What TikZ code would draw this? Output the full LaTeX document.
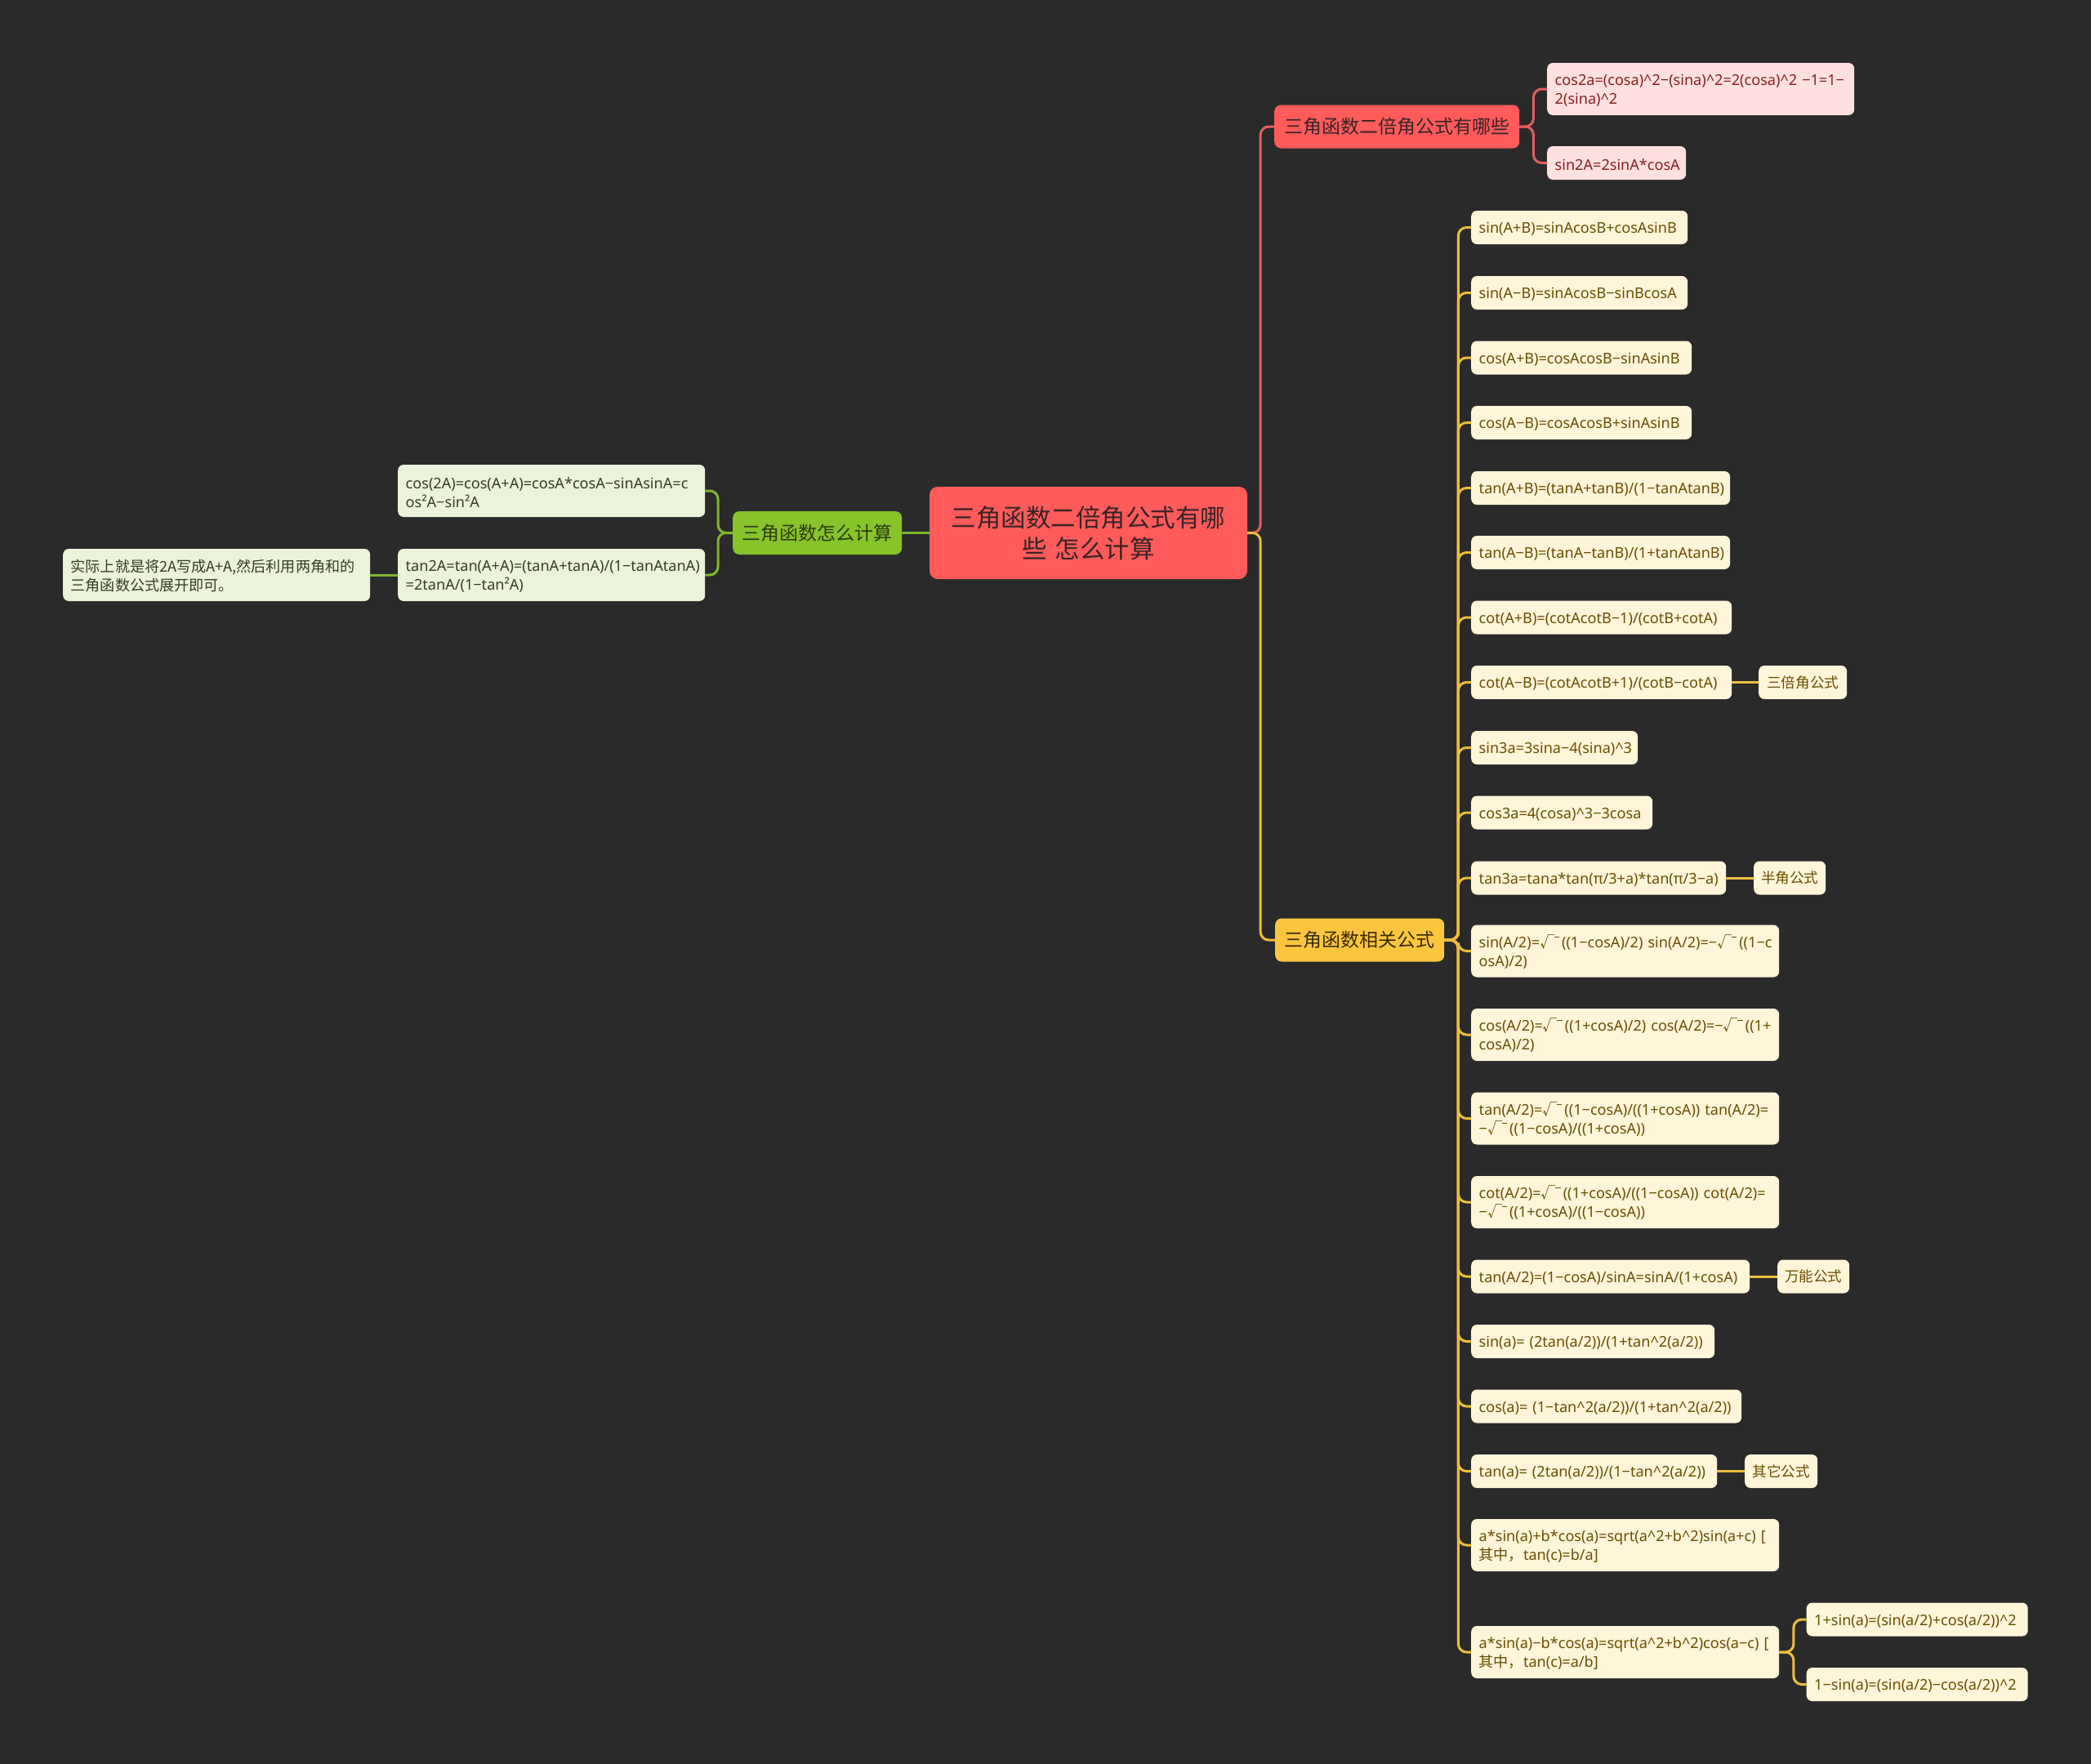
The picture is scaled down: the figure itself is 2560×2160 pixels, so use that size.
\documentclass[tikz,border=0pt]{standalone}
\usepackage{fontspec}
\setmainfont{Noto Sans}
\newfontfamily\cjk{Noto Sans CJK SC}
\newcommand\mysq{{\cjk √}\kern-0.5pt\rule[0.7em]{0.34em}{0.06em}\kern0.18em}
\definecolor{bgc}{HTML}{2A2A2A}
\definecolor{rootfill}{HTML}{FF5B5B}
\definecolor{roottext}{HTML}{3A2424}
\definecolor{redline}{HTML}{E0605E}
\definecolor{redleaf}{HTML}{FFE0E0}
\definecolor{redtext}{HTML}{8A1E1E}
\definecolor{yelfill}{HTML}{FBC63E}
\definecolor{yeltext}{HTML}{3A2A05}
\definecolor{yelline}{HTML}{EDBD3D}
\definecolor{yelleaf}{HTML}{FFF5D9}
\definecolor{yelleaftext}{HTML}{6A4E00}
\definecolor{grnfill}{HTML}{86C42A}
\definecolor{grntext}{HTML}{2E3B14}
\definecolor{grnline}{HTML}{7DB82C}
\definecolor{grnleaf}{HTML}{EBF3DB}
\definecolor{grnleaftext}{HTML}{343E22}
\begin{document}
\begin{tikzpicture}[x=1pt,y=-1pt,
  leaf/.style={anchor=west, rounded corners=7, inner xsep=9.5, inner ysep=0,
    minimum height=41, align=left, font=\fontsize{18.1}{23}\selectfont,
    execute at begin node={\rule{0pt}{17.5pt}}},
  two/.style={minimum height=64},
  yl/.style={leaf, fill=yelleaf, text=yelleaftext},
  rl/.style={leaf, fill=redleaf, text=redtext},
  gl/.style={leaf, fill=grnleaf, text=grnleaftext},
  cjkleaf/.style={anchor=west, rounded corners=7, inner xsep=0, inner ysep=0,
    minimum height=41, font=\cjk\fontsize{17.6}{23}\selectfont, fill=yelleaf, text=yelleaftext},
  branch/.style={anchor=west, rounded corners=8, inner xsep=0, inner ysep=0,
    minimum height=53, font=\cjk\fontsize{23}{28}\selectfont},
  rline/.style={draw=redline, line width=3, rounded corners=10},
  yline/.style={draw=yelline, line width=3, rounded corners=10},
  gline/.style={draw=grnline, line width=3, rounded corners=10},
]
\fill[bgc] (0,0) rectangle (2560,2160);
\useasboundingbox (0,0) rectangle (2560,2160);

% root
\node[fill=rootfill, text=roottext, rounded corners=10, minimum width=389, minimum height=113,
  text width=370, align=center, inner sep=0, font=\cjk\fontsize{30.5}{38}\selectfont]
  (root) at (1332.5,652.5) {三角函数二倍角公式有哪\\些 怎么计算};

% branches
\node[branch, fill=rootfill, text=roottext, minimum width=300] (rb) at (1560,155) {三角函数二倍角公式有哪些};
\node[branch, fill=yelfill, text=yeltext, minimum width=207] (yb) at (1561,1151) {三角函数相关公式};
\node[branch, fill=grnfill, text=grntext, minimum width=207] (gb) at (897,652.5) {三角函数怎么计算};

% red leaves
\node[rl, two, text width=357] (r1) at (1894,109) {\mbox{cos2a=(cosa)\^{}2−(sina)\^{}2=2(cosa)\^{}2 −1=1−}\\2(sina)\^{}2};
\node[rl, text width=151] (r2) at (1894,199.5) {\mbox{sin2A=2sinA*cosA}};

% green leaves
\node[gl, two, text width=357] (g1) at (487,601) {\mbox{cos(2A)=cos(A+A)=cosA*cosA−sinAsinA=c}\\os²A−sin²A};
\node[gl, two, text width=357] (g2) at (487,704) {\mbox{tan2A=tan(A+A)=(tanA+tanA)/(1−tanAtanA)}\\=2tanA/(1−tan²A)};
\node[gl, two, text width=357, font=\cjk\fontsize{18.1}{23}\selectfont] (g3) at (77,704) {\mbox{实际上就是将2A写成A+A,然后利用两角和的}\\三角函数公式展开即可。};

% yellow leaves
\node[yl, text width=246] (y1) at (1801,278.5) {\mbox{sin(A+B)=sinAcosB+cosAsinB}};
\node[yl, text width=246] (y2) at (1801,358.5) {\mbox{sin(A−B)=sinAcosB−sinBcosA}};
\node[yl, text width=251] (y3) at (1801,438) {\mbox{cos(A+B)=cosAcosB−sinAsinB}};
\node[yl, text width=251] (y4) at (1801,517.5) {\mbox{cos(A−B)=cosAcosB+sinAsinB}};
\node[yl, text width=298] (y5) at (1801,597.5) {\mbox{tan(A+B)=(tanA+tanB)/(1−tanAtanB)}};
\node[yl, text width=298] (y6) at (1801,676.5) {\mbox{tan(A−B)=(tanA−tanB)/(1+tanAtanB)}};
\node[yl, text width=300] (y7) at (1801,756) {\mbox{cot(A+B)=(cotAcotB−1)/(cotB+cotA)}};
\node[yl, text width=300] (y8) at (1801,835.5) {\mbox{cot(A−B)=(cotAcotB+1)/(cotB−cotA)}};
\node[yl, text width=185] (y9) at (1801,915.5) {\mbox{sin3a=3sina−4(sina)\^{}3}};
\node[yl, text width=203] (y10) at (1801,995) {\mbox{cos3a=4(cosa)\^{}3−3cosa}};
\node[yl, text width=293] (y11) at (1801,1075) {\mbox{tan3a=tana*tan(π/3+a)*tan(π/3−a)}};
\node[yl, two, text width=358] (y12) at (1801,1164.5) {\mbox{sin(A/2)=\mysq((1−cosA)/2) sin(A/2)=−\mysq((1−c}\\osA)/2)};
\node[yl, two, text width=358] (y13) at (1801,1267) {\mbox{cos(A/2)=\mysq((1+cosA)/2) cos(A/2)=−\mysq((1+}\\cosA)/2)};
\node[yl, two, text width=358] (y14) at (1801,1369.5) {\mbox{tan(A/2)=\mysq((1−cosA)/((1+cosA)) tan(A/2)=}\\−\mysq((1−cosA)/((1+cosA))};
\node[yl, two, text width=358] (y15) at (1801,1472) {\mbox{cot(A/2)=\mysq((1+cosA)/((1−cosA)) cot(A/2)=}\\−\mysq((1+cosA)/((1−cosA))};
\node[yl, text width=322] (y16) at (1801,1563) {\mbox{tan(A/2)=(1−cosA)/sinA=sinA/(1+cosA)}};
\node[yl, text width=279] (y17) at (1801,1642.5) {\mbox{sin(a)= (2tan(a/2))/(1+tan\^{}2(a/2))}};
\node[yl, text width=312] (y18) at (1801,1722) {\mbox{cos(a)= (1−tan\^{}2(a/2))/(1+tan\^{}2(a/2))}};
\node[yl, text width=282] (y19) at (1801,1801.5) {\mbox{tan(a)= (2tan(a/2))/(1−tan\^{}2(a/2))}};
\node[yl, two, text width=358] (y20) at (1801,1892) {\mbox{a*sin(a)+b*cos(a)=sqrt(a\^{}2+b\^{}2)sin(a+c) [}\\{\cjk 其中，}tan(c)=b/a]};
\node[yl, two, text width=358] (y21) at (1801,2023) {\mbox{a*sin(a)−b*cos(a)=sqrt(a\^{}2+b\^{}2)cos(a−c) [}\\{\cjk 其中，}tan(c)=a/b]};

% tags
\node[cjkleaf, minimum width=108] (t1) at (2153,835.5) {三倍角公式};
\node[cjkleaf, minimum width=88] (t2) at (2147,1075) {半角公式};
\node[cjkleaf, minimum width=88] (t3) at (2176,1563) {万能公式};
\node[cjkleaf, minimum width=89] (t4) at (2136,1801.5) {其它公式};
\node[yl, text width=252] (s1) at (2211.5,1983) {\mbox{1+sin(a)=(sin(a/2)+cos(a/2))\^{}2}};
\node[yl, text width=252] (s2) at (2211.5,2062.5) {\mbox{1−sin(a)=(sin(a/2)−cos(a/2))\^{}2}};

% connectors
\draw[rline] (root.east) -- ++(16,0) |- (rb.west);
\draw[yline] (root.east) -- ++(16,0) |- (yb.west);
\draw[gline] (root.west) -- (gb.east);
\foreach \c in {r1,r2} \draw[rline] (rb.east) -- ++(17,0) |- (\c.west);
\foreach \c in {y1,y2,y3,y4,y5,y6,y7,y8,y9,y10,y11,y12,y13,y14,y15,y16,y17,y18,y19,y20,y21}
  \draw[yline] (yb.east) -- ++(17,0) |- (\c.west);
\draw[yline] (y8.east) -- (t1.west);
\draw[yline] (y11.east) -- (t2.west);
\draw[yline] (y16.east) -- (t3.west);
\draw[yline] (y19.east) -- (t4.west);
\foreach \c in {s1,s2} \draw[yline] (y21.east) -- ++(17.5,0) |- (\c.west);
\foreach \c in {g1,g2} \draw[gline] (gb.west) -- ++(-18,0) |- (\c.east);
\draw[gline] (g2.west) -- (g3.east);
\end{tikzpicture}
\end{document}
